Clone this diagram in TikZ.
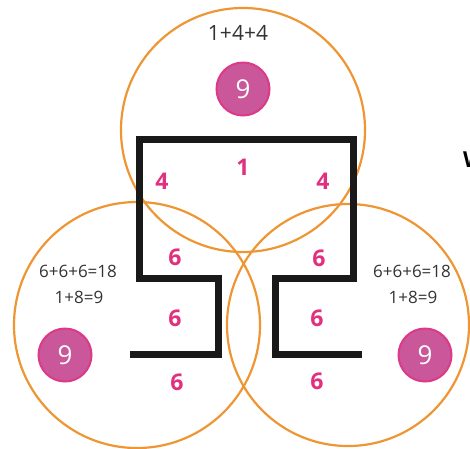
\documentclass[tikz,border=0pt]{standalone}
\usepackage{fontspec}
\setmainfont{Open Sans}
\definecolor{ring}{HTML}{EE9633}
\definecolor{numpink}{HTML}{E0307E}
\definecolor{dotfill}{HTML}{C9579A}
\definecolor{dotedge}{HTML}{DC3A88}
\definecolor{sumgray}{HTML}{333333}
\begin{document}
\begin{tikzpicture}[x=1pt,y=-1pt,
  ringc/.style={draw=ring,line width=2.2pt},
  wall/.style={draw=black!90,line width=7pt,line join=miter,line cap=butt},
  lab/.style={text=numpink,font=\fontsize{23}{23}\selectfont\bfseries,inner sep=0pt},
  sumtxt/.style={text=sumgray,font=\fontsize{17}{17}\selectfont,inner sep=0pt},
  dot/.style={circle,fill=dotfill,draw=dotedge,line width=2pt,minimum size=53pt,inner sep=0pt,text=white,font=\fontsize{26}{26}\selectfont}]
\useasboundingbox (0,0) rectangle (470,448);
\fill[white] (0,0) rectangle (470,448);
% rings
\draw[ringc] (243,130) circle (122);
\draw[ringc] (137,325) circle (123);
\draw[ringc] (348,325) circle (121);
% walls
\coordinate (a1) at (130,354);
\coordinate (a2) at (218,354);
\coordinate (a3) at (218,278);
\coordinate (a4) at (139,278);
\coordinate (a5) at (139,139);
\coordinate (a6) at (353.5,139);
\coordinate (a7) at (353.5,278);
\coordinate (a8) at (275,278);
\coordinate (a9) at (275,354);
\coordinate (a10) at (362,354);
\draw[wall] (a1) -- (a2) -- (a3) -- (a4) -- (a5) -- (a6) -- (a7) -- (a8) -- (a9) -- (a10);
% labels
\node[lab] (one) at (243,167) {1};
\node[lab] (fl) at (162,181) {4};
\node[lab] (fr) at (323,181) {4};
\node[lab] (l1) at (175,257) {6};
\node[lab] (l2) at (175,318) {6};
\node[lab] (l3) at (177,382) {6};
\node[lab] (r1) at (319,258) {6};
\node[lab] (r2) at (317,318) {6};
\node[lab] (r3) at (317,381) {6};
% sums
\node[sumtxt,font=\fontsize{21}{21}\selectfont] (st) at (238,33) {1+4+4};
\node[sumtxt] (sl1) at (78,271) {6+6+6=18};
\node[sumtxt] (sl2) at (79,297) {1+8=9};
\node[sumtxt] (sr1) at (412,271) {6+6+6=18};
\node[sumtxt] (sr2) at (413,297) {1+8=9};
% dots
\node[dot] (dt) at (243,89) {9};
\node[dot] (dl) at (65,355) {9};
\node[dot] (dr) at (425,355) {9};
% cut-off letter at edge
\node[text=black,font=\fontsize{22}{22}\selectfont\bfseries,inner sep=0pt,anchor=west] (cut) at (463,160) {W};
\end{tikzpicture}
\end{document}
